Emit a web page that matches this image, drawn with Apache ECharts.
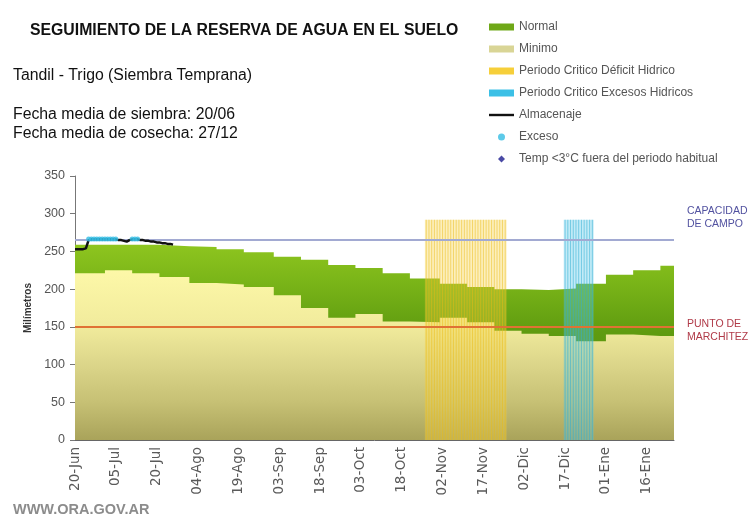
<!DOCTYPE html>
<html>
<head>
<meta charset="utf-8">
<script src="https://cdn.jsdelivr.net/npm/echarts@6/dist/echarts.min.js"></script>
<style>
  html, body { margin: 0; padding: 0; background: #fff; }
  #main { width: 756px; height: 519px; }
</style>
</head>
<body>
<div id="main"></div>
<script>
// days counted from 20-Jun
const tickDays = [0, 15, 30, 45, 60, 75, 90, 105, 120, 135, 150, 165, 180, 195, 210];
const tickLabels = ["20-Jun", "05-Jul", "20-Jul", "04-Ago", "19-Ago", "03-Sep", "18-Sep",
  "03-Oct", "18-Oct", "02-Nov", "17-Nov", "02-Dic", "17-Dic", "01-Ene", "16-Ene"];

// decadal steps (start day of each decade, last one is the end of the axis)
const stepDays = [0, 11, 21, 31, 42, 52, 62, 73, 83, 93, 103, 113, 123, 134, 144, 154, 164, 174, 184, 195, 205, 215, 220];
const normalTop = [259, 259, 259, 257, 256, 253, 249, 243, 239, 232, 228, 221, 214, 207, 203, 200, 199, 201, 207, 219, 225, 231, 231];
const minimoTop = [221, 225, 221, 216, 208, 206, 203, 192, 175, 162, 167, 157, 156, 162, 156, 145, 141, 138, 131, 140, 138, 138, 138];

const almacenajeDays = [0, 1, 2, 3, 4, 5, 6, 7, 8, 9, 10, 11, 12, 13, 14, 15, 16, 17, 18, 19, 20, 21, 22, 23, 24, 25, 26, 27, 28, 29, 30, 31, 32, 33, 34, 35, 36];
const almacenajeValues = [253, 253, 253, 253, 254, 265, 266, 266, 266, 266, 266, 266, 266, 266, 266, 266, 265, 265, 264, 263, 265, 266, 266, 266, 265, 265, 264, 264, 263, 263, 262, 262, 261, 261, 260, 260, 259];

const excesoDays = [5, 6, 7, 8, 9, 10, 11, 12, 13, 14, 15, 21, 22, 23];
const excesoValues = [266.5, 266.5, 266.5, 266.5, 266.5, 266.5, 266.5, 266.5, 266.5, 266.5, 266.5, 266.5, 266.5, 266.5];

const deficitDays = [129, 130, 131, 132, 133, 134, 135, 136, 137, 138, 139, 140, 141, 142, 143, 144, 145, 146, 147, 148, 149, 150, 151, 152, 153, 154, 155, 156, 157, 158];
const excesoCritDays = [180, 181, 182, 183, 184, 185, 186, 187, 188, 189, 190];
const deficitRange = [128.5, 158.5];
const excesoRange = [179.5, 190.5];
const criticalTop = 292;

const capacidadCampo = 265;
const puntoMarchitez = 150;

const FONT = '"Liberation Sans", Arial, sans-serif';
const DEFICIT = "Periodo Critico Déficit Hidrico";
const EXCESOS = "Periodo Critico Excesos Hidricos";

const chart = echarts.init(document.getElementById("main"));

const pairs = (xs, ys) => xs.map((x, i) => [x, ys[i]]);

// translucent band behind the stripes of a critical period
const periodFill = (name, range, color) => ({
  name,
  type: "line",
  symbol: "none",
  z: 3,
  silent: true,
  lineStyle: { width: 0 },
  areaStyle: { color, opacity: 1 },
  data: range.map((d) => [d, criticalTop]),
});

chart.setOption({
  animation: false,
  textStyle: { fontFamily: FONT },
  grid: { left: 75, right: 82, top: 176, bottom: 79 },
  legend: {
    orient: "vertical",
    left: 484,
    top: 16,
    itemWidth: 25,
    itemHeight: 7,
    itemGap: 10,
    textStyle: { fontSize: 12, color: "#555", fontFamily: FONT },
    data: [
      { name: "Normal", icon: "rect", itemStyle: { color: "#6fa818" } },
      { name: "Minimo", icon: "rect", itemStyle: { color: "#d9d596" } },
      { name: DEFICIT, icon: "rect", itemStyle: { color: "#f6cf3a" } },
      { name: EXCESOS, icon: "rect", itemStyle: { color: "#3cc0e6" } },
      { name: "Almacenaje", icon: "path://M0,0 L26,0 L26,2.5 L0,2.5 Z", itemStyle: { color: "#111" } },
      { name: "Exceso", icon: "circle" },
      { name: "Temp <3°C fuera del periodo habitual", icon: "path://M5,-1 L11,5 L5,11 L-1,5 Z" },
    ],
  },
  graphic: [
    { type: "text", x: 30, y: 31, style: { text: "SEGUIMIENTO DE LA RESERVA DE AGUA EN EL SUELO", font: "bold 15.8px " + FONT, fill: "#111", verticalAlign: "middle" } },
    { type: "text", x: 13, y: 76, style: { text: "Tandil - Trigo (Siembra Temprana)", font: "15.8px " + FONT, fill: "#111", verticalAlign: "middle" } },
    { type: "text", x: 13, y: 115, style: { text: "Fecha media de siembra: 20/06", font: "15.8px " + FONT, fill: "#111", verticalAlign: "middle" } },
    { type: "text", x: 13, y: 134, style: { text: "Fecha media de cosecha: 27/12", font: "15.8px " + FONT, fill: "#111", verticalAlign: "middle" } },
    { type: "text", x: 687, y: 218, style: { text: "CAPACIDAD\nDE CAMPO", font: "10.5px " + FONT, fill: "#5252a0", verticalAlign: "middle", lineHeight: 13 } },
    { type: "text", x: 687, y: 331, style: { text: "PUNTO DE\nMARCHITEZ", font: "10.5px " + FONT, fill: "#b03a48", verticalAlign: "middle", lineHeight: 13 } },
    { type: "text", x: 13, y: 510, style: { text: "WWW.ORA.GOV.AR", font: "bold 14.5px " + FONT, fill: "#8c8c8c", verticalAlign: "middle" } },
  ],
  xAxis: {
    type: "value",
    min: 0,
    max: 220,
    axisLine: { lineStyle: { color: "#666", width: 1 } },
    axisTick: { inside: true, length: 4, customValues: tickDays, lineStyle: { color: "#666" } },
    axisLabel: {
      customValues: tickDays,
      rotate: 90,
      margin: 7,
      fontSize: 13.5,
      fontFamily: '"DejaVu Sans", sans-serif',
      color: "#5a5a5a",
      formatter: (v) => tickLabels[tickDays.indexOf(v)] || "",
    },
    splitLine: { show: false },
  },
  yAxis: {
    type: "value",
    min: 0,
    max: 350,
    interval: 50,
    name: "Milímetros",
    nameLocation: "middle",
    nameGap: 40,
    nameTextStyle: { fontWeight: "bold", fontSize: 10, color: "#333" },
    axisLine: { show: true, lineStyle: { color: "#777" } },
    axisTick: { show: true, length: 5, lineStyle: { color: "#777" } },
    axisLabel: { fontSize: 12.5, color: "#555", margin: 10 },
    splitLine: { show: false },
  },
  series: [
    {
      name: "Normal",
      type: "line",
      step: "end",
      symbol: "none",
      z: 1,
      itemStyle: { color: "#6fa818" },
      lineStyle: { width: 0 },
      areaStyle: {
        opacity: 1,
        color: new echarts.graphic.LinearGradient(0, 0, 0, 1, [
          { offset: 0, color: "#8ec51f" },
          { offset: 0.2, color: "#79b418" },
          { offset: 0.45, color: "#5f9b10" },
          { offset: 1, color: "#4f8a0a" },
        ]),
      },
      data: pairs(stepDays, normalTop),
    },
    {
      name: "Minimo",
      type: "line",
      step: "end",
      symbol: "none",
      z: 2,
      itemStyle: { color: "#d9d596" },
      lineStyle: { width: 0 },
      areaStyle: {
        opacity: 1,
        color: new echarts.graphic.LinearGradient(0, 0, 0, 1, [
          { offset: 0, color: "#fdf8a8" },
          { offset: 0.33, color: "#f1eb9c" },
          { offset: 0.55, color: "#dcd68a" },
          { offset: 0.78, color: "#c6c074" },
          { offset: 1, color: "#a9a35a" },
        ]),
      },
      data: pairs(stepDays, minimoTop),
    },
    periodFill(DEFICIT, deficitRange, "rgba(248,212,70,0.36)"),
    periodFill(EXCESOS, excesoRange, "rgba(90,200,232,0.36)"),
    {
      name: DEFICIT,
      type: "bar",
      z: 4,
      barWidth: 1,
      itemStyle: { color: "rgba(236,188,20,0.5)" },
      data: deficitDays.map((d) => [d, criticalTop]),
    },
    {
      name: EXCESOS,
      type: "bar",
      z: 4,
      barWidth: 1,
      barGap: "-100%",
      itemStyle: { color: "rgba(50,175,212,0.55)" },
      data: excesoCritDays.map((d) => [d, criticalTop]),
    },
    {
      name: "Almacenaje",
      type: "line",
      symbol: "none",
      z: 5,
      itemStyle: { color: "#111" },
      lineStyle: { color: "#111", width: 2.5 },
      data: pairs(almacenajeDays, almacenajeValues),
      markLine: {
        silent: true,
        symbol: "none",
        label: { show: false },
        data: [
          { yAxis: capacidadCampo, lineStyle: { color: "#a2aad2", width: 2, type: "solid" } },
          { yAxis: puntoMarchitez, lineStyle: { color: "#e07234", width: 2, type: "solid" } },
        ],
      },
    },
    {
      name: "Exceso",
      type: "scatter",
      z: 6,
      symbol: "circle",
      symbolSize: 5,
      itemStyle: { color: "#35bde4" },
      data: pairs(excesoDays, excesoValues),
    },
    {
      name: "Temp <3°C fuera del periodo habitual",
      type: "scatter",
      symbol: "diamond",
      itemStyle: { color: "#1d1d8e" },
      data: [],
    },
  ],
});
</script>
</body>
</html>
